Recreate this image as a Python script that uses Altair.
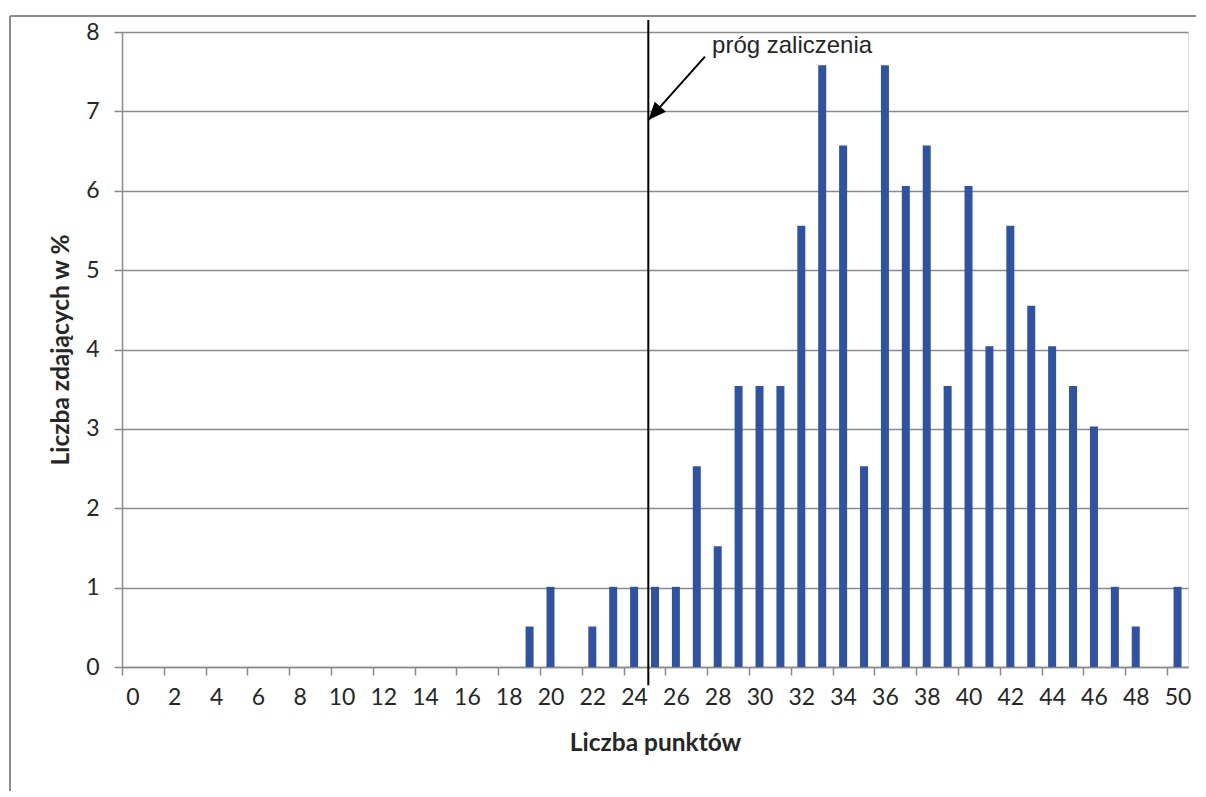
import altair as alt
import pandas as pd

# Data
points = list(range(0, 51))
pct = [0, 0, 0, 0, 0, 0, 0, 0, 0, 0,
       0, 0, 0, 0, 0, 0, 0, 0, 0, 0.51,
       1.01, 0, 0.51, 1.01, 1.01, 1.01, 1.01, 2.53, 1.52, 3.54,
       3.54, 3.54, 5.56, 7.58, 6.57, 2.53, 7.58, 6.06, 6.57, 3.54,
       6.06, 4.04, 5.56, 4.55, 4.04, 3.54, 3.03, 1.01, 0.51, 0,
       1.01]

threshold_x = 24.68
threshold_label = "próg zaliczenia"
x_title = "Liczba punktów"
y_title = "Liczba zdających w %"

df = pd.DataFrame({"points": points, "pct": pct})

W, H = 1066, 635
step = W / 51
GRID = "#8a8a8a"
TXT = "#262626"
BLUE = "#2f53a2"

boundaries = [i - 0.5 for i in range(52)]

xscale = alt.Scale(domain=[-0.5, 50.5], nice=False, zero=False, padding=0)
yscale = alt.Scale(domain=[0, 8], nice=False)

bars = alt.Chart(df).mark_bar(width=8, color=BLUE).encode(
    x=alt.X("points:Q", scale=xscale, axis=alt.Axis(
        values=boundaries,
        labelExpr="(datum.value + 0.5) % 2 == 0 && datum.value < 50 ? format(datum.value + 0.5, 'd') : ''",
        labelOffset=step / 2,
        labelOverlap=False, labelFlush=False, labelBound=False,
        tickSize=8, tickColor=GRID, tickWidth=1.5,
        domainColor=GRID, domainWidth=1.5,
        grid=False,
        labelFont="Lato", labelFontSize=23, labelColor=TXT, labelPadding=11,
        title=x_title, titleFont="Lato", titleFontSize=24.5, titleFontWeight="bold",
        titleColor=TXT, titleBaseline="alphabetic", titleY=83,
    )),
    y=alt.Y("pct:Q", scale=yscale, axis=alt.Axis(
        values=list(range(0, 9)), format="d",
        tickSize=8, tickColor=GRID, tickWidth=1.5,
        domainColor=GRID, domainWidth=1.5,
        grid=True, gridColor=GRID, gridWidth=1.5,
        labelFont="Lato", labelFontSize=23, labelColor=TXT, labelPadding=15,
        title=y_title, titleFont="Lato", titleFontSize=24.5, titleFontWeight="bold",
        titleColor=TXT, titleBaseline="alphabetic", titleX=-54, titleY=H / 2,
        titleAngle=270,
    )),
)

thr = pd.DataFrame({"points": [threshold_x], "pct": [-0.23], "pct2": [8.15]})
thr_rule = alt.Chart(thr).mark_rule(color="black", strokeWidth=2).encode(
    x="points:Q", y="pct:Q", y2="pct2:Q"
)

arrow = pd.DataFrame({"points": [27.39], "pct": [7.69], "points2": [threshold_x], "pct2": [6.89]})
arrow_line = alt.Chart(arrow).mark_rule(color="black", strokeWidth=2).encode(
    x="points:Q", y="pct:Q", x2="points2:Q", y2="pct2:Q"
)
head = pd.DataFrame({"points": [threshold_x], "pct": [6.89]})
arrow_head = alt.Chart(head).mark_point(
    shape="M0,0L0.42,1L-0.42,1Z", filled=True, color="black", opacity=1,
    size=1300, angle=222,
).encode(x="points:Q", y="pct:Q")

lab = pd.DataFrame({"points": [27.73], "pct": [7.74], "t": [threshold_label]})
label = alt.Chart(lab).mark_text(
    align="left", baseline="alphabetic", font="Liberation Sans", fontSize=24, color=TXT
).encode(x="points:Q", y="pct:Q", text="t:N")

frame_top = alt.Chart(df).mark_rule(color="#8c8c8c", strokeWidth=1.5).encode(
    x=alt.value(-112), x2=alt.value(W + 10), y=alt.value(-16)
)
frame_left = alt.Chart(df).mark_rule(color="#8c8c8c", strokeWidth=1.5).encode(
    x=alt.value(-112), y=alt.value(-16), y2=alt.value(H + 124)
)

chart = alt.layer(bars, thr_rule, arrow_line, arrow_head, label, frame_top, frame_left).properties(
    width=W, height=H,
    autosize=alt.AutoSizeParams(type="none"),
    padding={"left": 114, "top": 24, "right": 8, "bottom": 124},
).configure_view(stroke=None).configure(background="white")

chart.save("out.html", embed_options={"renderer": "svg", "actions": False})
